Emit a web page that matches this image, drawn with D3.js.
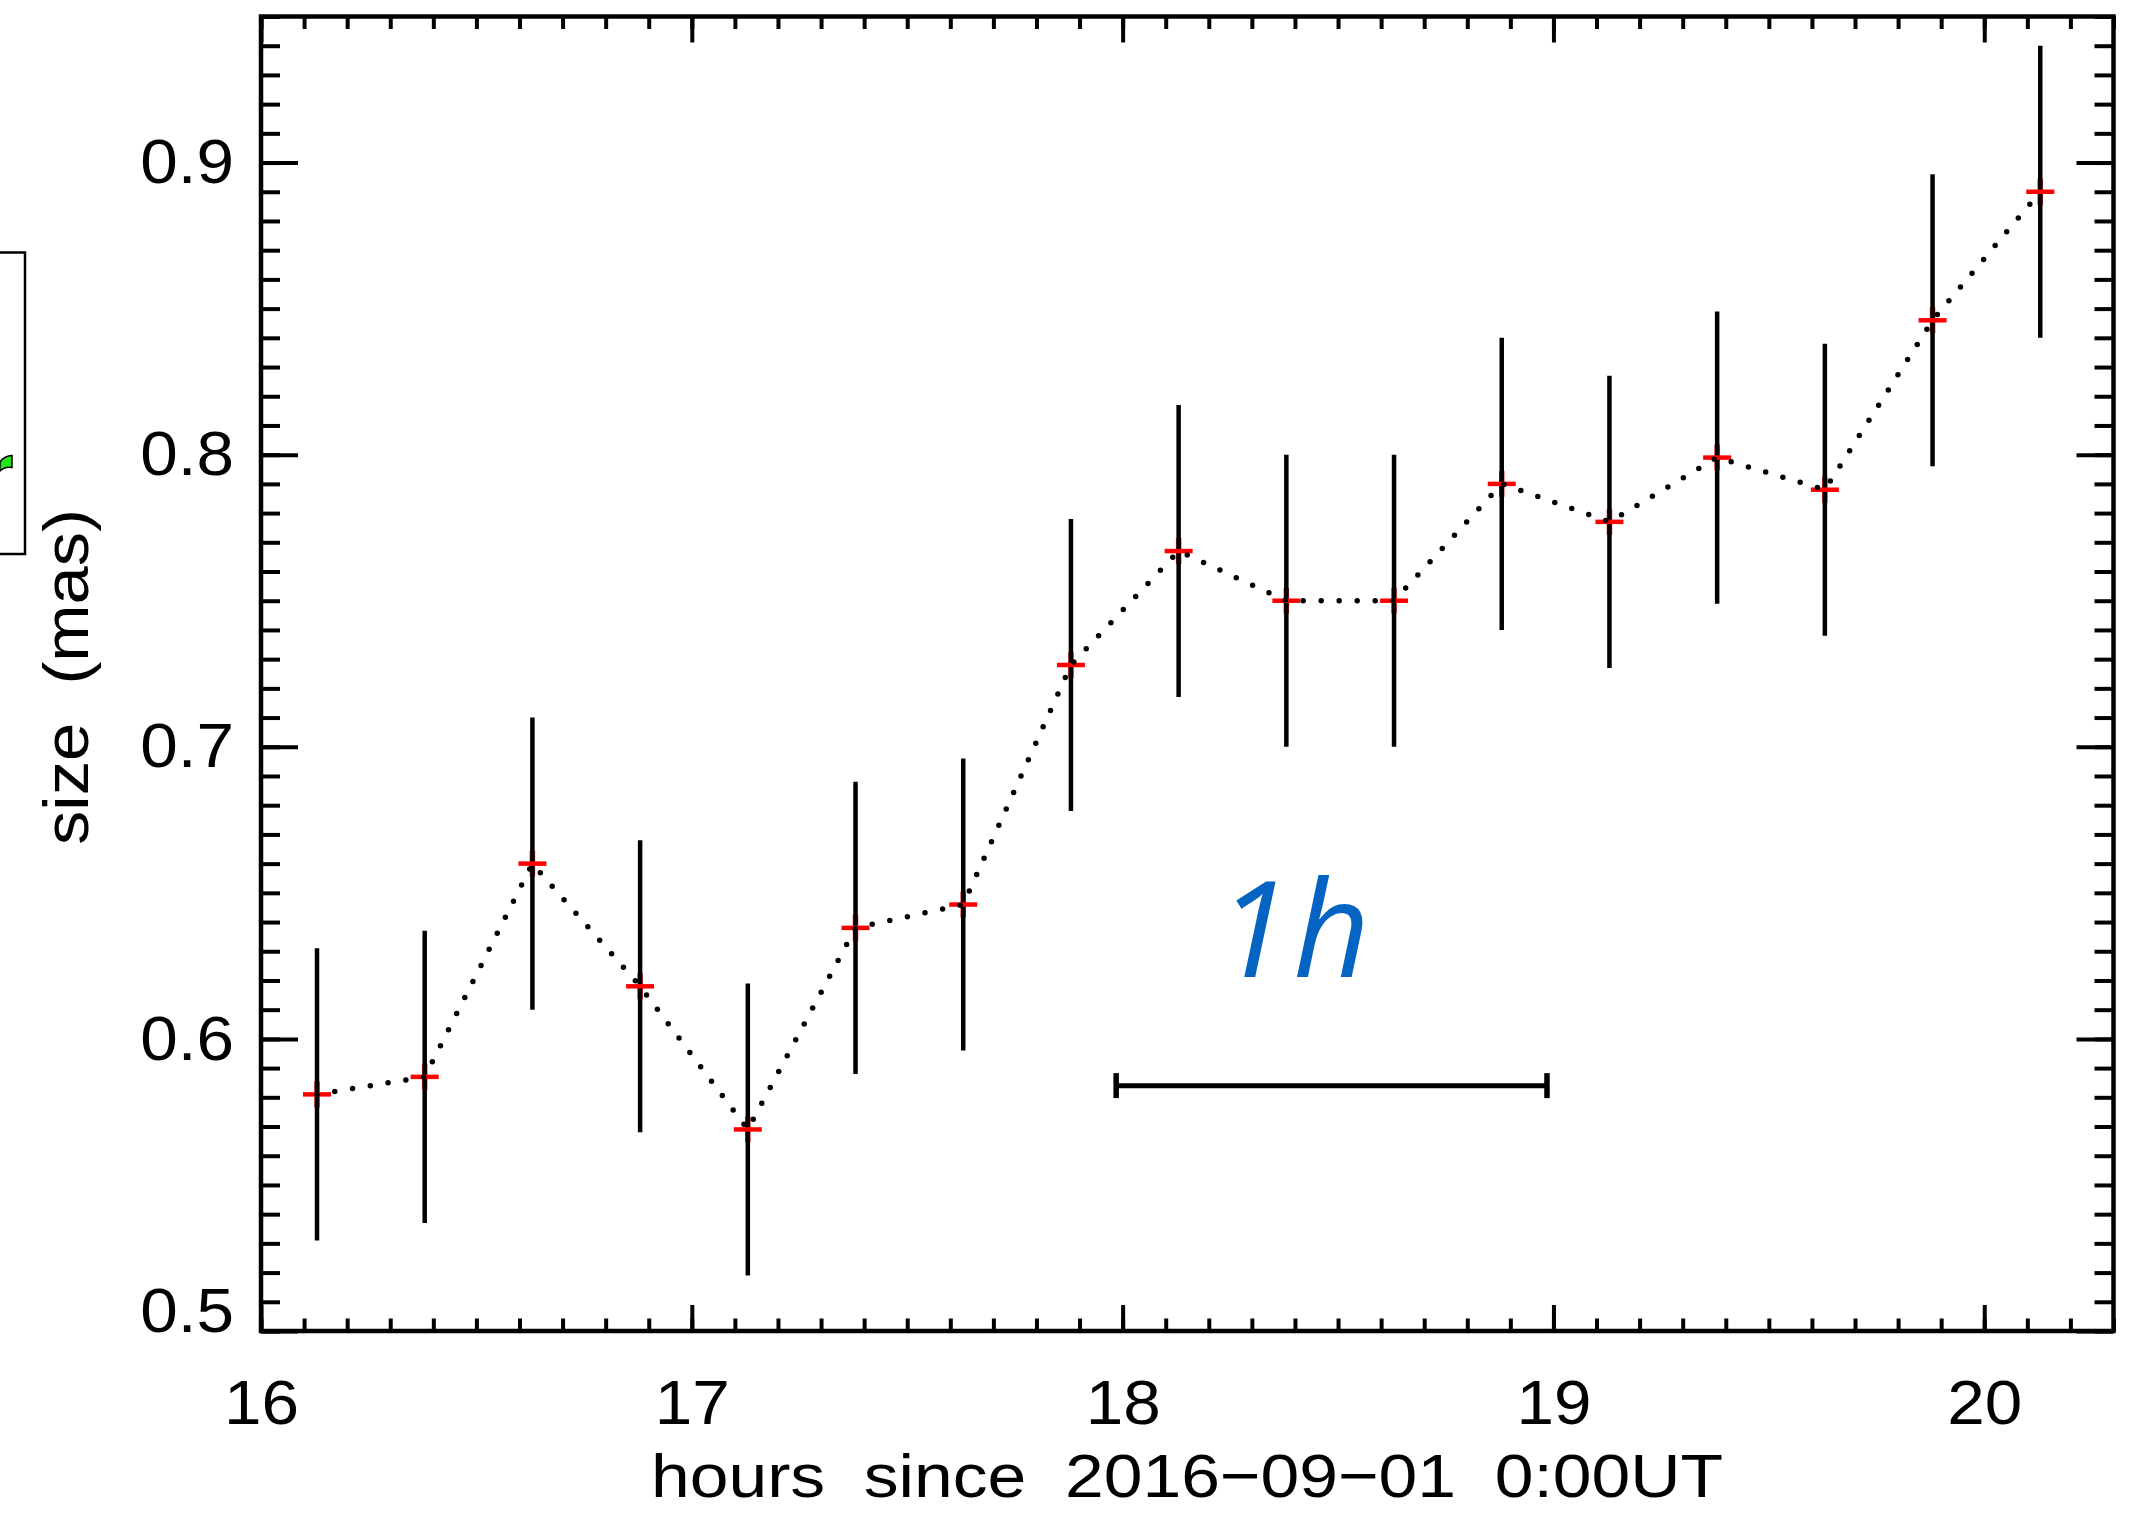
<!DOCTYPE html>
<html>
<head>
<meta charset="utf-8">
<script src="https://cdn.jsdelivr.net/npm/d3@7"></script>
<style>
  html, body { margin: 0; padding: 0; background: #fff; }
  svg { display: block; }
  .lab { font-family: "Liberation Sans", Arial, sans-serif; fill: #000; }
</style>
</head>
<body>
<div id="chart"></div>
<script>
// data
const hours = [16.13, 16.38, 16.63, 16.88, 17.13, 17.38, 17.63, 17.88, 18.13,
  18.38, 18.63, 18.88, 19.13, 19.38, 19.63, 19.88, 20.13];
const sizes = [0.581, 0.587, 0.660, 0.618, 0.569, 0.638, 0.646, 0.728, 0.767,
  0.750, 0.750, 0.790, 0.777, 0.799, 0.788, 0.846, 0.890];
const errors = [0.05, 0.05, 0.05, 0.05, 0.05, 0.05, 0.05, 0.05, 0.05,
  0.05, 0.05, 0.05, 0.05, 0.05, 0.05, 0.05, 0.05];

const xDomain = [16, 20.3];
const yDomain = [0.5, 0.95];
const xTicks = [16, 17, 18, 19, 20];
const yTicks = [0.5, 0.6, 0.7, 0.8, 0.9];
const xLabel = "hours  since  2016\u221209\u221201  0:00UT";
const yLabel = "size  (mas)";

// 1 hour scale bar annotation
const barHours = [17.985, 18.985];
const barLevel = 0.584;
const barText = "1h";
const barTextAt = [18.40, 0.6213];

const W = 2151, H = 1513;
const margin = { top: 16.5, right: 37.5, bottom: 182, left: 261 };
const width = W - margin.left - margin.right;
const height = H - margin.top - margin.bottom;

const svg = d3.select("#chart").append("svg")
  .attr("width", W)
  .attr("height", H);

// piece of the neighbouring panel, cut at the left edge
svg.append("rect")
  .attr("x", -10).attr("y", 252.5)
  .attr("width", 35).attr("height", 301.5)
  .attr("fill", "none").attr("stroke", "#000").attr("stroke-width", 2.5);
svg.append("path")
  .attr("d", "M0,471 L0,462 Q4,456 12,455.5 L12,467.5 Q5,466 0,471 Z")
  .attr("fill", "#22e61a").attr("stroke", "#000").attr("stroke-width", 1.5);

const g = svg.append("g")
  .attr("transform", `translate(${margin.left},${margin.top})`);

const x = d3.scaleLinear().domain(xDomain).range([0, width]);
const y = d3.scaleLinear().domain(yDomain).range([height, 0]);

// ticks pointing into the box, on all four sides
function tickAxis(axis, values, size, labels) {
  return axis.tickValues(values).tickSize(-size)
    .tickFormat(labels ? d3.format("") : () => "");
}
const xMinor = x.ticks(43);
const yMinor = y.ticks(45);

const axes = [
  [tickAxis(d3.axisBottom(x), xMinor, 12.5, false), `translate(0,${height})`],
  [tickAxis(d3.axisTop(x), xMinor, 12.5, false), null],
  [tickAxis(d3.axisLeft(y), yMinor, 19, false), null],
  [tickAxis(d3.axisRight(y), yMinor, 19, false), `translate(${width},0)`],
  [tickAxis(d3.axisBottom(x), xTicks, 26, true).tickPadding(48), `translate(0,${height})`],
  [tickAxis(d3.axisTop(x), xTicks, 26, false), null],
  [tickAxis(d3.axisLeft(y), yTicks, 37, true).tickPadding(27), null],
  [tickAxis(d3.axisRight(y), yTicks, 37, false), `translate(${width},0)`]
];
axes.forEach(([axis, tr]) => {
  const a = g.append("g").call(axis);
  if (tr) a.attr("transform", tr);
  a.select(".domain").remove();
  a.selectAll(".tick line").attr("stroke", "#000").attr("stroke-width", 4);
  a.selectAll(".tick text")
    .attr("class", "lab")
    .style("font-size", "63px")
    .each(function () {
      const w = this.getComputedTextLength();
      if (w > 0) d3.select(this).attr("textLength", w * 1.07).attr("lengthAdjust", "spacingAndGlyphs");
    });
});
// lowest y label sits a little above the bottom axis, as in the original
g.selectAll(".tick text").filter(d => d === yDomain[0]).attr("dy", "0.32em").attr("y", -20);

// plot box
g.append("rect")
  .attr("x", 0).attr("y", 0)
  .attr("width", width).attr("height", height)
  .attr("fill", "none").attr("stroke", "#000").attr("stroke-width", 4.5);

const pts = hours.map((h, i) => ({ h, s: sizes[i], e: errors[i] }));

// error bars with red plus markers
const mk = g.append("g");
mk.selectAll(".pv").data(pts).enter().append("line")
  .attr("x1", d => x(d.h)).attr("x2", d => x(d.h))
  .attr("y1", d => y(d.s) - 13).attr("y2", d => y(d.s) + 13)
  .attr("stroke", "#e8231e").attr("stroke-width", 5.5);
mk.selectAll(".eb").data(pts).enter().append("line")
  .attr("x1", d => x(d.h)).attr("x2", d => x(d.h))
  .attr("y1", d => y(d.s + d.e)).attr("y2", d => y(d.s - d.e))
  .attr("stroke", "#000").attr("stroke-width", 4.5);
mk.selectAll(".ph").data(pts).enter().append("line")
  .attr("x1", d => x(d.h) - 14).attr("x2", d => x(d.h) + 14)
  .attr("y1", d => y(d.s)).attr("y2", d => y(d.s))
  .attr("stroke", "#ff0000").attr("stroke-width", 4.5);

// dotted connecting line
const line = d3.line().x(d => x(d.h)).y(d => y(d.s));
g.append("path")
  .datum(pts)
  .attr("d", line)
  .attr("fill", "none")
  .attr("stroke", "#000")
  .attr("stroke-width", 5.5)
  .attr("stroke-linecap", "round")
  .attr("stroke-dasharray", "0 18");

// 1h scale bar
const bar = g.append("g");
bar.append("line")
  .attr("x1", x(barHours[0])).attr("x2", x(barHours[1]))
  .attr("y1", y(barLevel)).attr("y2", y(barLevel))
  .attr("stroke", "#000").attr("stroke-width", 5);
bar.selectAll(".cap").data(barHours).enter().append("line")
  .attr("x1", d => x(d)).attr("x2", d => x(d))
  .attr("y1", y(barLevel) - 12.5).attr("y2", y(barLevel) + 12.5)
  .attr("stroke", "#000").attr("stroke-width", 5.5);
bar.append("text")
  .attr("x", x(barTextAt[0])).attr("y", y(barTextAt[1]))
  .attr("text-anchor", "middle")
  .style("font-family", "'Open Sans', 'Noto Sans', sans-serif")
  .style("font-style", "italic")
  .style("font-size", "133px")
  .style("letter-spacing", "3px")
  .attr("fill", "#0564c2")
  .text(barText);

// axis titles
svg.append("text")
  .attr("class", "lab")
  .attr("x", 1187).attr("y", 1497)
  .attr("text-anchor", "middle")
  .style("font-size", "62px")
  .style("white-space", "pre")
  .attr("textLength", 1072).attr("lengthAdjust", "spacingAndGlyphs")
  .text(xLabel);

svg.append("text")
  .attr("class", "lab")
  .attr("transform", "translate(88,677) rotate(-90)")
  .attr("text-anchor", "middle")
  .style("font-size", "63px")
  .style("white-space", "pre")
  .attr("textLength", 336).attr("lengthAdjust", "spacingAndGlyphs")
  .text(yLabel);
</script>
</body>
</html>
